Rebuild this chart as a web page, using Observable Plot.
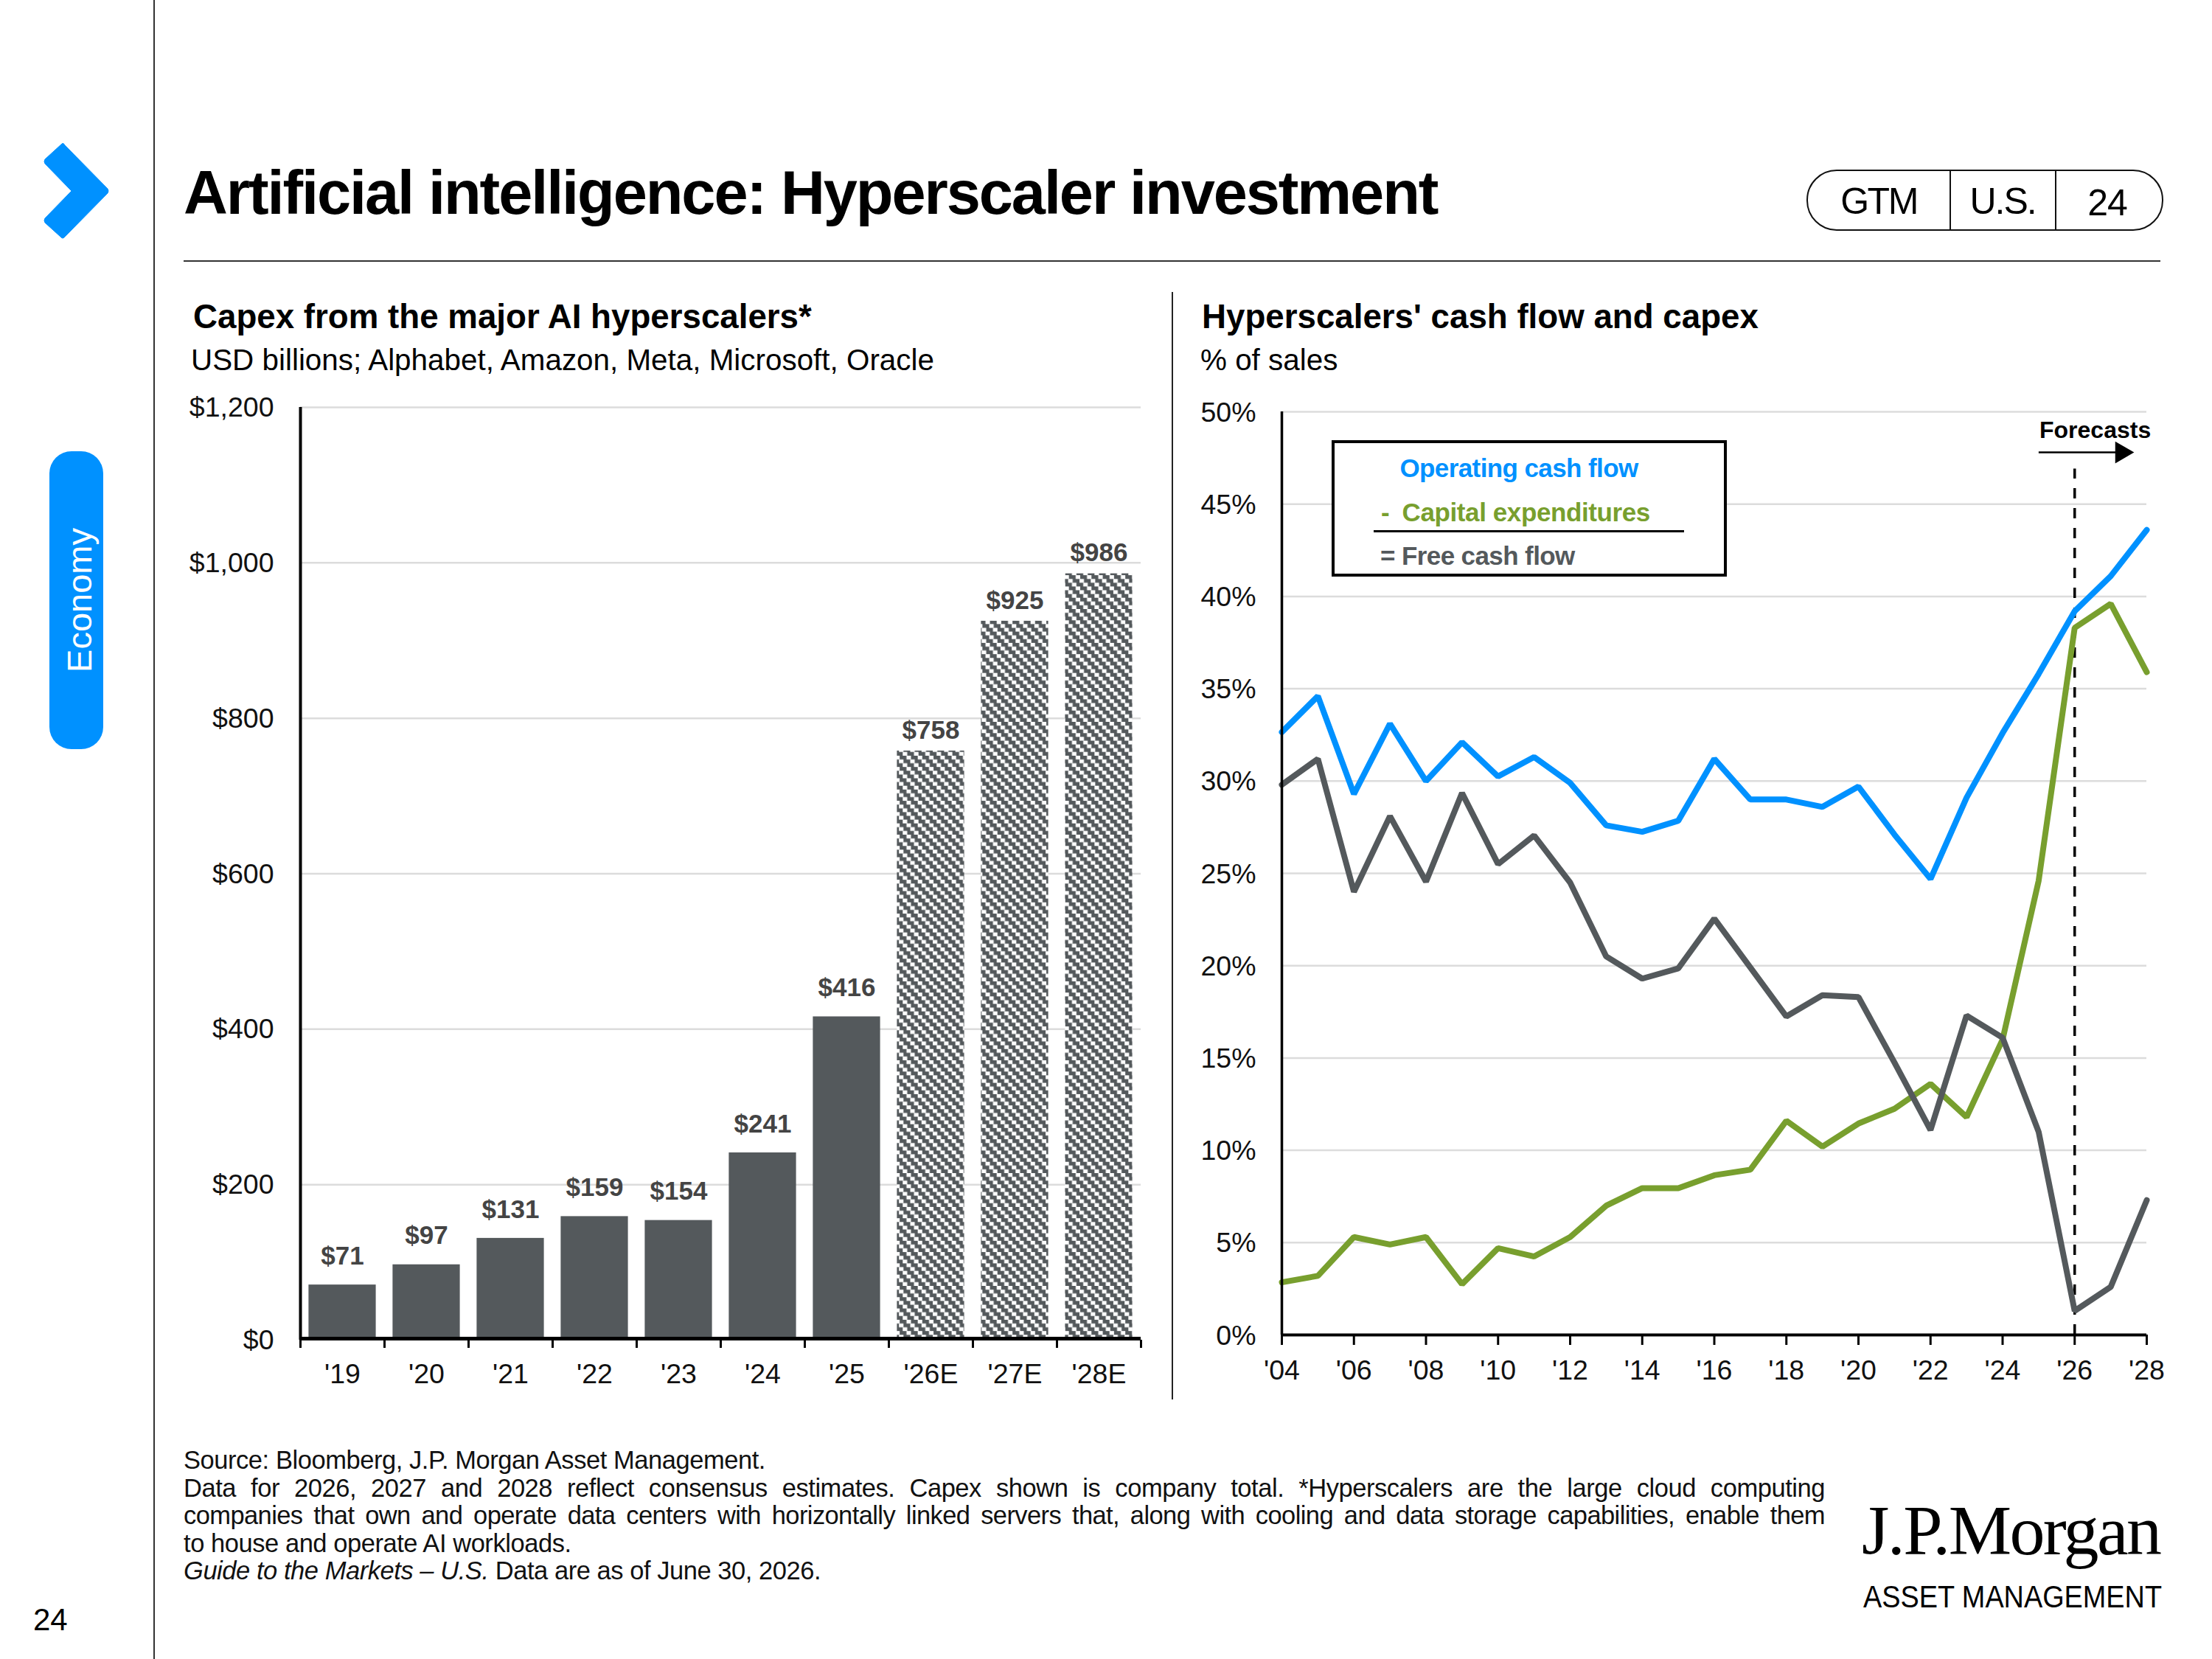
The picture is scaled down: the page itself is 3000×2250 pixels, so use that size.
<!DOCTYPE html>
<html><head><meta charset="utf-8">
<script src="https://cdn.jsdelivr.net/npm/d3@7"></script>
<script src="https://cdn.jsdelivr.net/npm/@observablehq/plot@0.6"></script>
<style>
html,body{margin:0;padding:0;background:#fff;}
body{width:3000px;height:2250px;position:relative;font-family:"Liberation Sans",Arial,sans-serif;color:#000;}
.a{position:absolute;white-space:nowrap;}
.line{position:absolute;left:249px;font-size:34.5px;letter-spacing:-.45px;line-height:38px;color:#111;white-space:nowrap;}
.just{width:2226px;white-space:normal;text-align:justify;text-align-last:justify;}
.chart{position:absolute;}
.chart svg{overflow:visible;}
</style></head><body>
<div class="a" style="left:208px;top:0;width:2px;height:2250px;background:#333"></div>
<svg class="a" style="left:0;top:0" width="200" height="400"><path d="M84 195 Q86 193 88 197 L146 256 Q148 259 146 262 L88 321 Q85 325 82 321 L61 302 Q59 299 61 296 L97 259 L61 222 Q59 219 61 216 Z" fill="#0091ff" stroke="#0091ff" stroke-linejoin="round"/></svg>
<div class="a" style="left:67px;top:612px;width:73px;height:404px;background:#0091ff;border-radius:30px"></div>
<div class="a" style="left:107px;top:814px;color:#fff;font-size:47px;transform:translate(-50%,-50%) rotate(-90deg)">Economy</div>
<div class="a" style="left:45px;top:2173px;font-size:42px;">24</div>
<div class="a" id="title" style="left:249px;top:214px;font-size:83px;font-weight:700;letter-spacing:-2.1px;line-height:96px">Artificial intelligence: Hyperscaler investment</div>
<div class="a" style="left:249px;top:353px;width:2681px;height:2px;background:#333"></div>
<div class="a" style="left:2450px;top:230px;width:480px;height:79px;border:2px solid #111;border-radius:41px"></div>
<div class="a" style="left:2644px;top:231px;width:2px;height:80px;background:#111"></div>
<div class="a" style="left:2787px;top:231px;width:2px;height:80px;background:#111"></div>
<div class="a" style="left:2548px;top:273px;font-size:50px;letter-spacing:-2.5px;transform:translate(-50%,-50%)">GTM</div>
<div class="a" style="left:2716px;top:273px;font-size:50px;letter-spacing:-2px;transform:translate(-50%,-50%)">U.S.</div>
<div class="a" style="left:2858px;top:275px;font-size:50px;letter-spacing:-1px;transform:translate(-50%,-50%)">24</div>

<div class="a" style="left:262px;top:404px;font-size:45.7px;font-weight:700;line-height:52px">Capex from the major AI hyperscalers*</div>
<div class="a" style="left:259px;top:465px;font-size:40.4px;line-height:46px">USD billions; Alphabet, Amazon, Meta, Microsoft, Oracle</div>
<div class="a" style="left:1630px;top:404px;font-size:45.7px;font-weight:700;line-height:52px">Hyperscalers' cash flow and capex</div>
<div class="a" style="left:1628px;top:465px;font-size:40.4px;line-height:46px">% of sales</div>
<div class="a" style="left:1589px;top:396px;width:2px;height:1502px;background:#222"></div>

<div class="chart" id="left" style="left:240px;top:520px"></div>
<div class="chart" id="right" style="left:1600px;top:520px"></div>

<div class="a" style="left:1806px;top:597px;width:528px;height:177px;border:4px solid #000;background:#fff"></div>
<div class="a" style="left:2060px;top:635px;transform:translate(-50%,-50%);font-size:35px;font-weight:700;color:#0091ff;letter-spacing:-.6px">Operating cash flow</div>
<div class="a" style="left:1873px;top:695px;transform:translateY(-50%);font-size:35px;font-weight:700;color:#789f2e;letter-spacing:-.4px">- <span style="margin-left:8px">Capital expenditures</span></div>
<div class="a" style="left:1863px;top:719px;width:421px;height:3px;background:#000"></div>
<div class="a" style="left:1872px;top:754px;transform:translateY(-50%);font-size:35px;font-weight:700;color:#54595c;letter-spacing:-.6px">= Free cash flow</div>

<div class="line" style="top:1961px">Source: Bloomberg, J.P. Morgan Asset Management.</div>
<div class="line just" style="top:1999px">Data for 2026, 2027 and 2028 reflect consensus estimates. Capex shown is company total. *Hyperscalers are the large cloud computing</div>
<div class="line just" style="top:2036px;letter-spacing:-.6px">companies that own and operate data centers with horizontally linked servers that, along with cooling and data storage capabilities, enable them</div>
<div class="line" style="top:2074px">to house and operate AI workloads.</div>
<div class="line" style="top:2111px"><i>Guide to the Markets – U.S.</i> Data are as of June 30, 2026.</div>

<div class="a" style="left:2525px;top:2026px;font-family:'Liberation Serif',serif;font-size:96px;letter-spacing:-2.6px;line-height:100px">J.P.Morgan</div>
<svg class="a" style="left:2500px;top:2130px;overflow:visible" width="460" height="70"><text x="27" y="50" font-family="Liberation Sans" font-size="42" textLength="405" lengthAdjust="spacingAndGlyphs">ASSET MANAGEMENT</text></svg>

<script>
const capexLabels = ["'19","'20","'21","'22","'23","'24","'25","'26E","'27E","'28E"];
const capexValues = [71,97,131,159,154,241,416,758,925,986];
const capexTicks = [0,200,400,600,800,1000,1200];

const years = [2004,2005,2006,2007,2008,2009,2010,2011,2012,2013,2014,2015,2016,2017,2018,2019,2020,2021,2022,2023,2024,2025,2026,2027,2028];
const ocf = [32.65,34.6,29.3,33.1,30.0,32.1,30.25,31.3,29.9,27.6,27.25,27.85,31.2,29.0,29.0,28.6,29.7,27.1,24.7,29.1,32.6,35.8,39.2,41.1,43.6];
const capex = [2.85,3.2,5.3,4.9,5.3,2.75,4.7,4.25,5.3,7.0,7.95,7.95,8.65,8.95,11.6,10.2,11.45,12.25,13.6,11.8,16.0,24.6,38.3,39.6,35.9];
const fcf = [29.8,31.2,24.0,28.1,24.55,29.35,25.5,27.05,24.5,20.5,19.3,19.85,22.55,19.9,17.25,18.4,18.3,14.75,11.1,17.3,16.1,11.0,1.3,2.6,7.3];
const yearTicks = [2004,2006,2008,2010,2012,2014,2016,2018,2020,2022,2024,2026,2028];
const pctTicks = [0,5,10,15,20,25,30,35,40,45,50];
const forecastYear = 2026;

const GRAY="#54595c", BLUE="#0091ff", GREEN="#789f2e", GRID="#dcdcdc", FONT="'Liberation Sans',Arial,sans-serif";

const bars = capexValues.map((v,i)=>({i,v,label:capexLabels[i],est:capexLabels[i].endsWith("E")}));
const hatch = () => {
  const svgNS="http://www.w3.org/2000/svg";
  const g=document.createElementNS(svgNS,"g");
  g.innerHTML=`<defs><pattern id="hatch" patternUnits="userSpaceOnUse" width="15.3" height="15.3">
    <rect width="15.3" height="15.3" fill="${GRAY}"/>
    <rect x="10.2" y="0" width="5.1" height="5.1" fill="#fff"/>
    <rect x="0" y="0" width="1" height="5.1" fill="#fff"/>
    <rect x="0" y="5.1" width="6.1" height="5.1" fill="#fff"/>
    <rect x="5.1" y="10.2" width="6.1" height="5.1" fill="#fff"/>
  </pattern></defs>`;
  return g;
};
const pad=0.1;
const left = Plot.plot({
  width:1330,height:1400,marginLeft:167,marginRight:23,marginTop:32,marginBottom:103,
  style:{fontFamily:FONT,fontSize:"37.5px",color:"#222",background:"transparent",overflow:"visible"},
  x:{type:"linear",domain:[0,10]},
  y:{domain:[0,1200]},
  marks:[
    hatch,
    Plot.ruleY(capexTicks.filter(d=>d>0),{stroke:GRID,strokeWidth:2.5}),
    Plot.rectY(bars.filter(d=>!d.est),{x1:d=>d.i+pad,x2:d=>d.i+1-pad,y:"v",fill:GRAY}),
    Plot.rectY(bars.filter(d=>d.est),{x1:d=>d.i+pad,x2:d=>d.i+1-pad,y:"v",fill:"url(#hatch)"}),
    Plot.text(bars.filter(d=>!d.est),{x:d=>d.i+.5,y:"v",text:d=>"$"+d.v,dy:-39,fontWeight:700,fontSize:35,fill:"#444"}),
    Plot.text(bars.filter(d=>d.est),{x:d=>d.i+.5,y:"v",text:d=>"$"+d.v,dy:-28,fontWeight:700,fontSize:35,fill:"#444"}),
    Plot.ruleX([0],{stroke:"#000",strokeWidth:4}),
    Plot.ruleY([0],{stroke:"#000",strokeWidth:5,dy:-2}),
    Plot.axisY({ticks:capexTicks,tickSize:0,tickPadding:36,tickFormat:d=>"$"+d3.format(",")(d),label:null,fill:"#111",dy:.5}),
    Plot.axisX({ticks:d3.range(11),tickSize:11,text:null,label:null,stroke:"#000",strokeWidth:3}),
    Plot.axisX({ticks:d3.range(10).map(i=>i+.5),tickSize:0,tickPadding:32,tickFormat:i=>capexLabels[Math.floor(i)],label:null,fill:"#111"})
  ]
});
document.getElementById("left").append(left);

const series = [["Operating cash flow",ocf,BLUE],["Capital expenditures",capex,GREEN],["Free cash flow",fcf,GRAY]];
const lineMarks = series.map(([n,vals,c])=>Plot.line(years.map((x,i)=>({x,y:vals[i]})),{x:"x",y:"y",stroke:c,strokeWidth:8,strokeLinejoin:"miter",curve:"linear"}));
const right = Plot.plot({
  width:1360,height:1400,marginLeft:138,marginRight:49,marginTop:38,marginBottom:110,
  style:{fontFamily:FONT,fontSize:"37.5px",color:"#222",background:"transparent",overflow:"visible"},
  x:{type:"linear",domain:[2004,2028]},
  y:{domain:[0,50]},
  marks:[
    Plot.ruleY(pctTicks.filter(d=>d>0),{stroke:GRID,strokeWidth:2.5}),
    Plot.ruleX([forecastYear],{y1:0,y2:46.9,stroke:"#000",strokeWidth:3.5,strokeDasharray:"14 13"}),
    ...[lineMarks[1],lineMarks[0],lineMarks[2]],
    Plot.ruleX([2004],{stroke:"#000",strokeWidth:3.5}),
    Plot.ruleY([0],{stroke:"#000",strokeWidth:4}),
    Plot.text(["Forecasts"],{x:()=>2026.57,y:()=>49,fontWeight:700,fontSize:32,fill:"#000"}),
    Plot.link([0],{x1:()=>2025,x2:()=>2027.2,y1:()=>47.8,y2:()=>47.8,stroke:"#000",strokeWidth:2.5}),
    Plot.dot([0],{x:()=>2027.3,y:()=>47.8,symbol:"triangle",r:11,rotate:90,fill:"#000"}),
    Plot.axisY({ticks:pctTicks,tickSize:0,tickPadding:35,tickFormat:d=>d+"%",label:null,fill:"#111",dy:1}),
    Plot.axisX({ticks:yearTicks,tickSize:14,tickPadding:20,tickFormat:d=>"'"+String(d).slice(2),label:null,stroke:"#000",strokeWidth:3,fill:"#111"})
  ]
});
document.getElementById("right").append(right);
</script>
</body></html>
